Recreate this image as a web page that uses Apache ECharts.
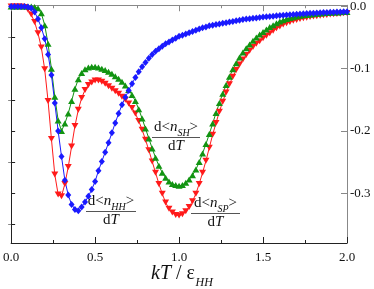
<!DOCTYPE html>
<html><head><meta charset="utf-8">
<script src="https://cdn.jsdelivr.net/npm/echarts@6/dist/echarts.min.js"></script>
<style>html,body{margin:0;padding:0;background:#fff}#c{width:374px;height:289px}</style>
</head><body><div id="c"></div>
<script>
// kT/eps_HH sample points
const xValues = [0.00,0.02,0.04,0.06,0.08,0.10,0.12,0.14,0.16,0.18,0.20,0.22,0.24,0.26,0.28,0.30,0.32,0.34,0.36,0.38,0.40,0.42,0.44,0.46,0.48,0.50,0.52,0.54,0.56,0.58,0.60,0.62,0.64,0.66,0.68,0.70,0.72,0.74,0.76,0.78,0.80,0.82,0.84,0.86,0.88,0.90,0.92,0.94,0.96,0.98,1.00,1.02,1.04,1.06,1.08,1.10,1.12,1.14,1.16,1.18,1.20,1.22,1.24,1.26,1.28,1.30,1.32,1.34,1.36,1.38,1.40,1.42,1.44,1.46,1.48,1.50,1.52,1.54,1.56,1.58,1.60,1.62,1.64,1.66,1.68,1.70,1.72,1.74,1.76,1.78,1.80,1.82,1.84,1.86,1.88,1.90,1.92,1.94,1.96,1.98,2.00];
// d<n_HH>/dT (blue diamonds)
const dnHH = [0,0,0,0,0,-0.001,-0.003,-0.009,-0.020,-0.034,-0.052,-0.077,-0.110,-0.155,-0.200,-0.241,-0.279,-0.303,-0.318,-0.326,-0.328,-0.322,-0.314,-0.305,-0.294,-0.281,-0.264,-0.249,-0.234,-0.219,-0.203,-0.187,-0.172,-0.158,-0.146,-0.135,-0.124,-0.114,-0.105,-0.097,-0.090,-0.083,-0.077,-0.072,-0.068,-0.064,-0.060,-0.057,-0.054,-0.051,-0.048,-0.046,-0.044,-0.042,-0.040,-0.038,-0.036,-0.034,-0.033,-0.031,-0.030,-0.029,-0.028,-0.027,-0.026,-0.025,-0.024,-0.023,-0.022,-0.021,-0.020,-0.0195,-0.019,-0.0183,-0.0177,-0.017,-0.0165,-0.016,-0.0155,-0.015,-0.0145,-0.014,-0.0136,-0.0132,-0.0128,-0.0124,-0.012,-0.0116,-0.0113,-0.011,-0.0107,-0.0104,-0.0101,-0.0098,-0.0095,-0.0093,-0.0091,-0.0089,-0.0087,-0.0085,-0.0083];
// d<n_SP>/dT (red down-triangles)
const dnSP = [0,0,0,0,-0.001,-0.005,-0.013,-0.025,-0.043,-0.066,-0.101,-0.152,-0.213,-0.270,-0.302,-0.305,-0.285,-0.258,-0.225,-0.192,-0.166,-0.147,-0.134,-0.126,-0.122,-0.119,-0.119,-0.121,-0.124,-0.128,-0.132,-0.136,-0.140,-0.145,-0.150,-0.156,-0.163,-0.172,-0.184,-0.198,-0.214,-0.231,-0.249,-0.267,-0.285,-0.301,-0.315,-0.325,-0.331,-0.335,-0.336,-0.334,-0.329,-0.322,-0.313,-0.301,-0.285,-0.267,-0.248,-0.227,-0.206,-0.187,-0.169,-0.153,-0.138,-0.125,-0.113,-0.102,-0.093,-0.085,-0.078,-0.071,-0.065,-0.060,-0.056,-0.051,-0.047,-0.043,-0.039,-0.035,-0.032,-0.029,-0.027,-0.025,-0.023,-0.0215,-0.020,-0.019,-0.018,-0.017,-0.0162,-0.0155,-0.0148,-0.0142,-0.0136,-0.013,-0.0125,-0.012,-0.0115,-0.011,-0.0106];
// d<n_SH>/dT (green up-triangles)
const dnSH = [0,0,0,0,0,0,0,-0.001,-0.003,-0.011,-0.030,-0.060,-0.100,-0.145,-0.183,-0.200,-0.188,-0.172,-0.152,-0.132,-0.117,-0.107,-0.101,-0.098,-0.097,-0.097,-0.098,-0.100,-0.102,-0.105,-0.108,-0.112,-0.116,-0.121,-0.127,-0.134,-0.142,-0.152,-0.165,-0.180,-0.196,-0.212,-0.228,-0.243,-0.256,-0.267,-0.275,-0.281,-0.285,-0.287,-0.288,-0.287,-0.283,-0.278,-0.271,-0.262,-0.250,-0.236,-0.221,-0.205,-0.188,-0.171,-0.155,-0.140,-0.126,-0.113,-0.101,-0.091,-0.082,-0.074,-0.067,-0.061,-0.055,-0.050,-0.045,-0.041,-0.037,-0.033,-0.030,-0.027,-0.024,-0.022,-0.020,-0.0185,-0.0172,-0.016,-0.015,-0.0142,-0.0135,-0.0129,-0.0123,-0.0118,-0.0113,-0.0109,-0.0105,-0.0101,-0.0098,-0.0095,-0.0092,-0.0089,-0.0087];
const yMajorTicks = [0, -0.1, -0.2, -0.3];
const yMinorTicks = [-0.05, -0.15, -0.25, -0.35];
const yAllTicks = [0, -0.05, -0.1, -0.15, -0.2, -0.25, -0.3, -0.35];

const SERIF = 'Liberation Serif';
const chart = echarts.init(document.getElementById('c'), null, {renderer: 'canvas'});

function pairs(ys) { return xValues.map((x, i) => [x, ys[i]]); }

const xCommon = {type: 'value', min: 0, max: 2, interval: 0.5, splitLine: {show: false}};
const fracRich = {
  r: {fontSize: 15, fontFamily: SERIF, fill: '#111', lineHeight: 15, verticalAlign: 'top'},
  i: {fontSize: 15, fontFamily: SERIF, fontStyle: 'italic', fill: '#111', lineHeight: 15, verticalAlign: 'top'},
  s: {fontSize: 10, fontFamily: SERIF, fontStyle: 'italic', fill: '#111', lineHeight: 10, padding: [9, 0, 0, 0], verticalAlign: 'top'}
};
function fraction(sub, cx, lineY, x1, x2) {
  return [
    {type: 'text', x: cx, y: lineY - 10, style: {text: '{r|d<}{i|n}{s|' + sub + '}{r|>}', rich: fracRich, align: 'center', verticalAlign: 'middle'}},
    {type: 'line', shape: {x1: x1, y1: lineY + 0.5, x2: x2, y2: lineY + 0.5}, style: {stroke: '#555', lineWidth: 1}},
    {type: 'text', x: cx, y: lineY + 9, style: {text: '{r|d}{i|T}', rich: fracRich, align: 'center', verticalAlign: 'middle'}}
  ];
}

chart.setOption({
  animation: false,
  backgroundColor: '#fff',
  grid: {left: 9, right: 27, top: 5, bottom: 46, containLabel: false},
  xAxis: [
    Object.assign({}, xCommon, {
      position: 'bottom',
      axisLine: {show: true, onZero: false, lineStyle: {color: '#222', width: 1}},
      axisTick: {show: true, inside: true, length: 6, lineStyle: {color: '#222'}},
      minorTick: {show: true, splitNumber: 2, length: 3, lineStyle: {color: '#222'}},
      axisLabel: {formatter: v => v.toFixed(1), fontFamily: SERIF, fontSize: 13, color: '#111', margin: 8}
    }),
    Object.assign({}, xCommon, {
      position: 'top',
      axisLine: {show: true, onZero: false, lineStyle: {color: '#888', width: 1}},
      axisTick: {show: true, inside: true, length: 6, lineStyle: {color: '#888'}},
      minorTick: {show: true, splitNumber: 2, length: 3, lineStyle: {color: '#888'}},
      axisLabel: {show: false}
    })
  ],
  yAxis: [
    {type: 'value', position: 'right', min: -0.38, max: 0.002, splitLine: {show: false},
      axisLine: {show: true, onZero: false, lineStyle: {color: '#888', width: 1}},
      axisTick: {show: true, inside: true, length: 6, customValues: yMajorTicks, lineStyle: {color: '#888'}},
      axisLabel: {customValues: yMajorTicks, formatter: v => v.toFixed(1), fontFamily: SERIF, fontSize: 13, color: '#111', margin: 3}
    },
    {type: 'value', position: 'right', min: -0.38, max: 0.002, splitLine: {show: false},
      axisLine: {show: false},
      axisTick: {show: true, inside: true, length: 3, customValues: yMinorTicks, lineStyle: {color: '#888'}},
      axisLabel: {show: false}
    },
    {type: 'value', position: 'left', min: -0.38, max: 0.002, splitLine: {show: false},
      axisLine: {show: true, onZero: false, lineStyle: {color: '#222', width: 1}},
      axisTick: {show: true, inside: true, length: 4, customValues: yAllTicks, lineStyle: {color: '#222'}},
      axisLabel: {show: false}
    }
  ],
  series: [
    {type: 'line', name: 'SP', data: pairs(dnSP), xAxisIndex: 0, yAxisIndex: 0, showAllSymbol: true,
      symbol: 'triangle', symbolRotate: 180, symbolSize: [7, 6],
      lineStyle: {color: '#ff1a1a', width: 1}, itemStyle: {color: '#ff1a1a'}},
    {type: 'line', name: 'SH', data: pairs(dnSH), xAxisIndex: 0, yAxisIndex: 0, showAllSymbol: true,
      symbol: 'triangle', symbolSize: [7, 6],
      lineStyle: {color: '#129412', width: 1}, itemStyle: {color: '#129412'}},
    {type: 'line', name: 'HH', data: pairs(dnHH), xAxisIndex: 0, yAxisIndex: 0, showAllSymbol: true,
      symbol: 'diamond', symbolSize: [6, 7],
      lineStyle: {color: '#1a1aff', width: 1}, itemStyle: {color: '#1a1aff'}}
  ],
  graphic: [
    {type: 'text', x: 195, y: 273.5, style: {
      text: '{i|kT}{r| / ε}', align: 'right', verticalAlign: 'middle',
      rich: {
        i: {fontSize: 20, fontFamily: SERIF, fontStyle: 'italic', fill: '#111', lineHeight: 20},
        r: {fontSize: 20, fontFamily: SERIF, fill: '#111', lineHeight: 20}
      }}},
    {type: 'text', x: 195.5, y: 282.5, style: {
      text: 'HH', align: 'left', verticalAlign: 'middle',
      fontSize: 12, fontFamily: SERIF, fontStyle: 'italic', fill: '#111'}}
  ].concat(fraction('HH', 111, 211, 86, 136), fraction('SH', 176, 137, 152, 200), fraction('SP', 215.5, 213, 191, 240))
});
</script>
</body></html>
